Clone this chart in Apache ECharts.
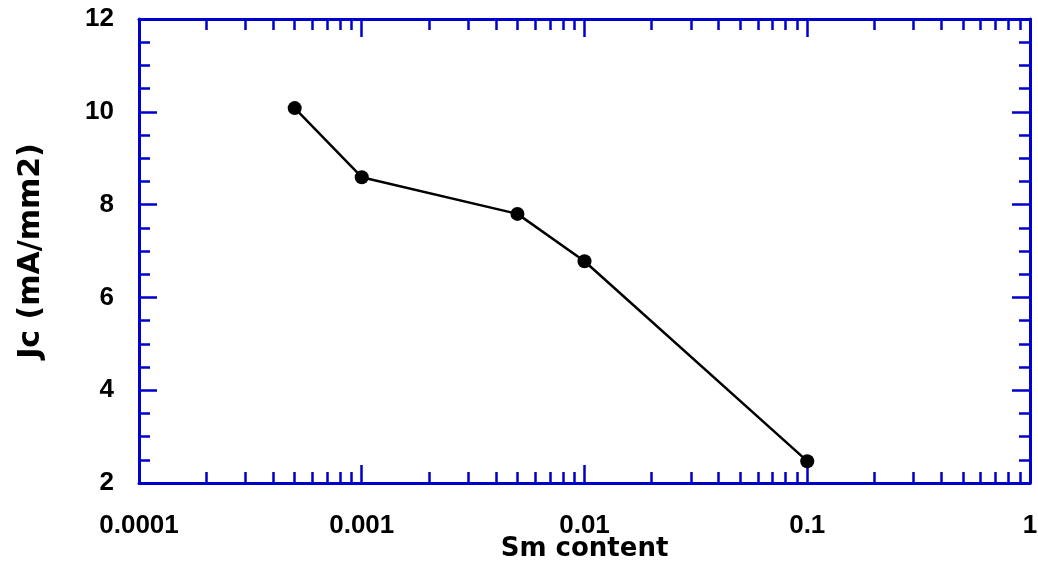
<!DOCTYPE html>
<html>
<head>
<meta charset="utf-8">
<script src="https://cdn.jsdelivr.net/npm/echarts@6/dist/echarts.min.js"></script>
<style>
  html, body { margin: 0; padding: 0; background: #fff; }
  #chart { width: 1038px; height: 562px; }
</style>
</head>
<body>
<div id="chart"></div>
<script>
// Sm content vs critical current density
const smContent = [0.0005, 0.001, 0.005, 0.01, 0.1]
const jcValues = [10.08, 8.59, 7.80, 6.78, 2.47]
const xTickLabels = ['0.0001', '0.001', '0.01', '0.1', '1']
const decades = [-4, -3, -2, -1]
const minorMultipliers = [2, 3, 4, 5, 6, 7, 8, 9]
const yMin = 2, yMax = 12, yStep = 2, yMinorStep = 0.5

const blue = '#0000cc'
const labelFont = { fontFamily: 'Liberation Sans', fontWeight: 'bold', fontSize: 26, color: '#000' }
const titleFont = { fontFamily: 'DejaVu Sans', fontWeight: 'bold', color: '#000' }

// minor ticks of the log axis, in log10 space
const minorX = []
decades.forEach(d => minorMultipliers.forEach(m => minorX.push(d + Math.log10(m))))
// minor ticks of the value axis
const minorY = []
for (let v = yMin + yMinorStep; v < yMax; v += yMinorStep) {
  if (v % yStep !== 0) minorY.push(v)
}

const chart = echarts.init(document.getElementById('chart'))

const majorX = (pos, withLabels) => ({
  type: 'log',
  logBase: 10,
  min: 0.0001,
  max: 1,
  position: pos,
  axisLine: { show: true, onZero: false, lineStyle: { color: blue, width: 3 } },
  axisTick: { show: true, inside: true, length: 18, lineStyle: { color: blue, width: 2.5 } },
  axisLabel: withLabels ? {
    ...labelFont,
    margin: 30,
    formatter: v => xTickLabels[Math.round(Math.log10(v)) + 4]
  } : { show: false },
  splitLine: { show: false },
  minorTick: { show: false },
  name: withLabels ? 'Sm content' : '',
  nameLocation: 'middle',
  nameGap: 53,
  nameMoveOverlap: false,
  nameTextStyle: { ...titleFont, fontSize: 26 }
})

const minorXAxis = pos => ({
  type: 'value',
  min: -4,
  max: 0,
  position: pos,
  axisLine: { show: false, onZero: false },
  axisTick: { show: true, inside: true, length: 11, customValues: minorX, lineStyle: { color: blue, width: 2.5 } },
  axisLabel: { show: false },
  splitLine: { show: false }
})

const majorY = (pos, withLabels) => ({
  type: 'value',
  min: yMin,
  max: yMax,
  interval: yStep,
  position: pos,
  axisLine: { show: true, onZero: false, lineStyle: { color: blue, width: 3 } },
  axisTick: { show: true, inside: true, length: 18, lineStyle: { color: blue, width: 2.5 } },
  minorTick: { show: false },
  axisLabel: withLabels ? { ...labelFont, margin: 25 } : { show: false },
  splitLine: { show: false },
  name: withLabels ? 'Jc (mA/mm2)' : '',
  nameLocation: 'middle',
  nameGap: 93,
  nameMoveOverlap: false,
  nameTextStyle: { ...titleFont, fontSize: 30 }
})

const minorYAxis = pos => ({
  type: 'value',
  min: yMin,
  max: yMax,
  position: pos,
  axisLine: { show: false, onZero: false },
  axisTick: { show: true, inside: true, length: 11, customValues: minorY, lineStyle: { color: blue, width: 2.5 } },
  axisLabel: { show: false },
  splitLine: { show: false }
})

const option = {
  animation: false,
  backgroundColor: '#fff',
  grid: { left: 139, right: 8, top: 19, bottom: 79, outerBoundsMode: 'none', containLabel: false },
  xAxis: [majorX('bottom', true), minorXAxis('bottom'), majorX('top', false), minorXAxis('top')],
  yAxis: [majorY('left', true), minorYAxis('left'), majorY('right', false), minorYAxis('right')],
  series: [{
    type: 'line',
    xAxisIndex: 0,
    yAxisIndex: 0,
    data: smContent.map((x, i) => [x, jcValues[i]]),
    symbol: 'circle',
    symbolSize: 14,
    itemStyle: { color: '#000' },
    lineStyle: { color: '#000', width: 2.5 }
  }]
}

chart.setOption(option)
</script>
</body>
</html>
